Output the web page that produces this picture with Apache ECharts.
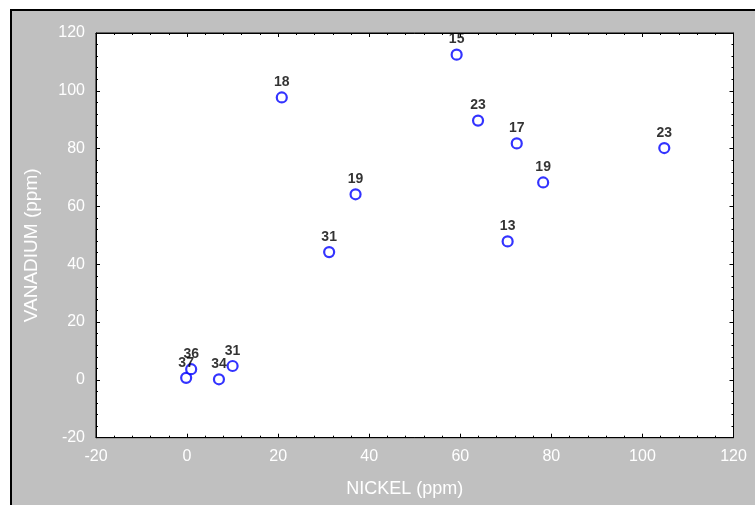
<!DOCTYPE html>
<html>
<head>
<meta charset="utf-8">
<script src="https://cdn.jsdelivr.net/npm/echarts@6/dist/echarts.min.js"></script>
<style>
  html, body { margin: 0; padding: 0; background: #fff; }
  #chart { width: 755px; height: 505px; }
</style>
</head>
<body>
<div id="chart"></div>
<script>
// Ni / V values, label = sample count
const nickel = [-0.2, 0.9, 7.0, 10.0, 20.8, 31.2, 37.0, 59.2, 63.9, 72.4, 70.4, 78.2, 104.8];
const vanadium = [0.7, 3.7, 0.2, 4.8, 97.7, 44.2, 64.2, 112.5, 89.7, 81.8, 47.9, 68.3, 80.2];
const pointLabels = ['37', '36', '34', '31', '18', '31', '19', '15', '23', '17', '13', '19', '23'];

const font = 'Arial, "Liberation Sans", sans-serif';

const chart = echarts.init(document.getElementById('chart'));

const axisCommon = {
    type: 'value',
    min: -20,
    max: 120,
    interval: 20,
    splitLine: { show: false },
    axisLine: { show: true, onZero: false, lineStyle: { color: '#000', width: 1 } },
    axisTick: { show: true, inside: true, length: 4, lineStyle: { color: '#000' } },
    minorTick: { show: true, splitNumber: 5, length: 2, lineStyle: { color: '#000' } }
};

const tickLabel = { color: '#fff', fontFamily: font, fontSize: 16 };

const option = {
    backgroundColor: '#fff',
    animation: false,
    graphic: [{
        type: 'rect',
        z: -10,
        shape: { x: 11, y: 10, width: 800, height: 600 },
        style: { fill: '#c0c0c0', stroke: '#000', lineWidth: 2 }
    }],
    grid: {
        left: 96,
        top: 33,
        right: 21.5,
        bottom: 67.3,
        show: true,
        backgroundColor: '#fff',
        borderColor: '#000',
        borderWidth: 1
    },
    xAxis: [
        Object.assign({}, axisCommon, {
            position: 'bottom',
            name: 'NICKEL (ppm)',
            nameLocation: 'middle',
            nameGap: 42,
            nameTextStyle: { color: '#fff', fontFamily: font, fontSize: 18, padding: [0, 20, 0, 0] },
            axisLabel: Object.assign({ margin: 11 }, tickLabel)
        }),
        Object.assign({}, axisCommon, {
            position: 'top',
            axisLabel: { show: false }
        })
    ],
    yAxis: [
        Object.assign({}, axisCommon, {
            position: 'left',
            name: 'VANADIUM (ppm)',
            nameLocation: 'middle',
            nameGap: 55,
            nameTextStyle: { color: '#fff', fontFamily: font, fontSize: 19, padding: [0, 20, 0, 0] },
            axisLabel: Object.assign({ margin: 11 }, tickLabel)
        }),
        Object.assign({}, axisCommon, {
            position: 'right',
            axisLabel: { show: false }
        })
    ],
    series: [{
        type: 'scatter',
        data: nickel.map((x, i) => [x, vanadium[i], pointLabels[i]]),
        symbol: 'circle',
        symbolSize: 10,
        itemStyle: { color: '#fff', borderColor: '#0000ff', borderWidth: 2.2 },
        label: {
            show: true,
            position: 'top',
            distance: 2,
            formatter: p => p.data[2],
            color: '#000',
            textBorderWidth: 0,
            fontFamily: font,
            fontWeight: 'bold',
            fontSize: 14
        }
    }]
};

chart.setOption(option);
</script>
</body>
</html>
